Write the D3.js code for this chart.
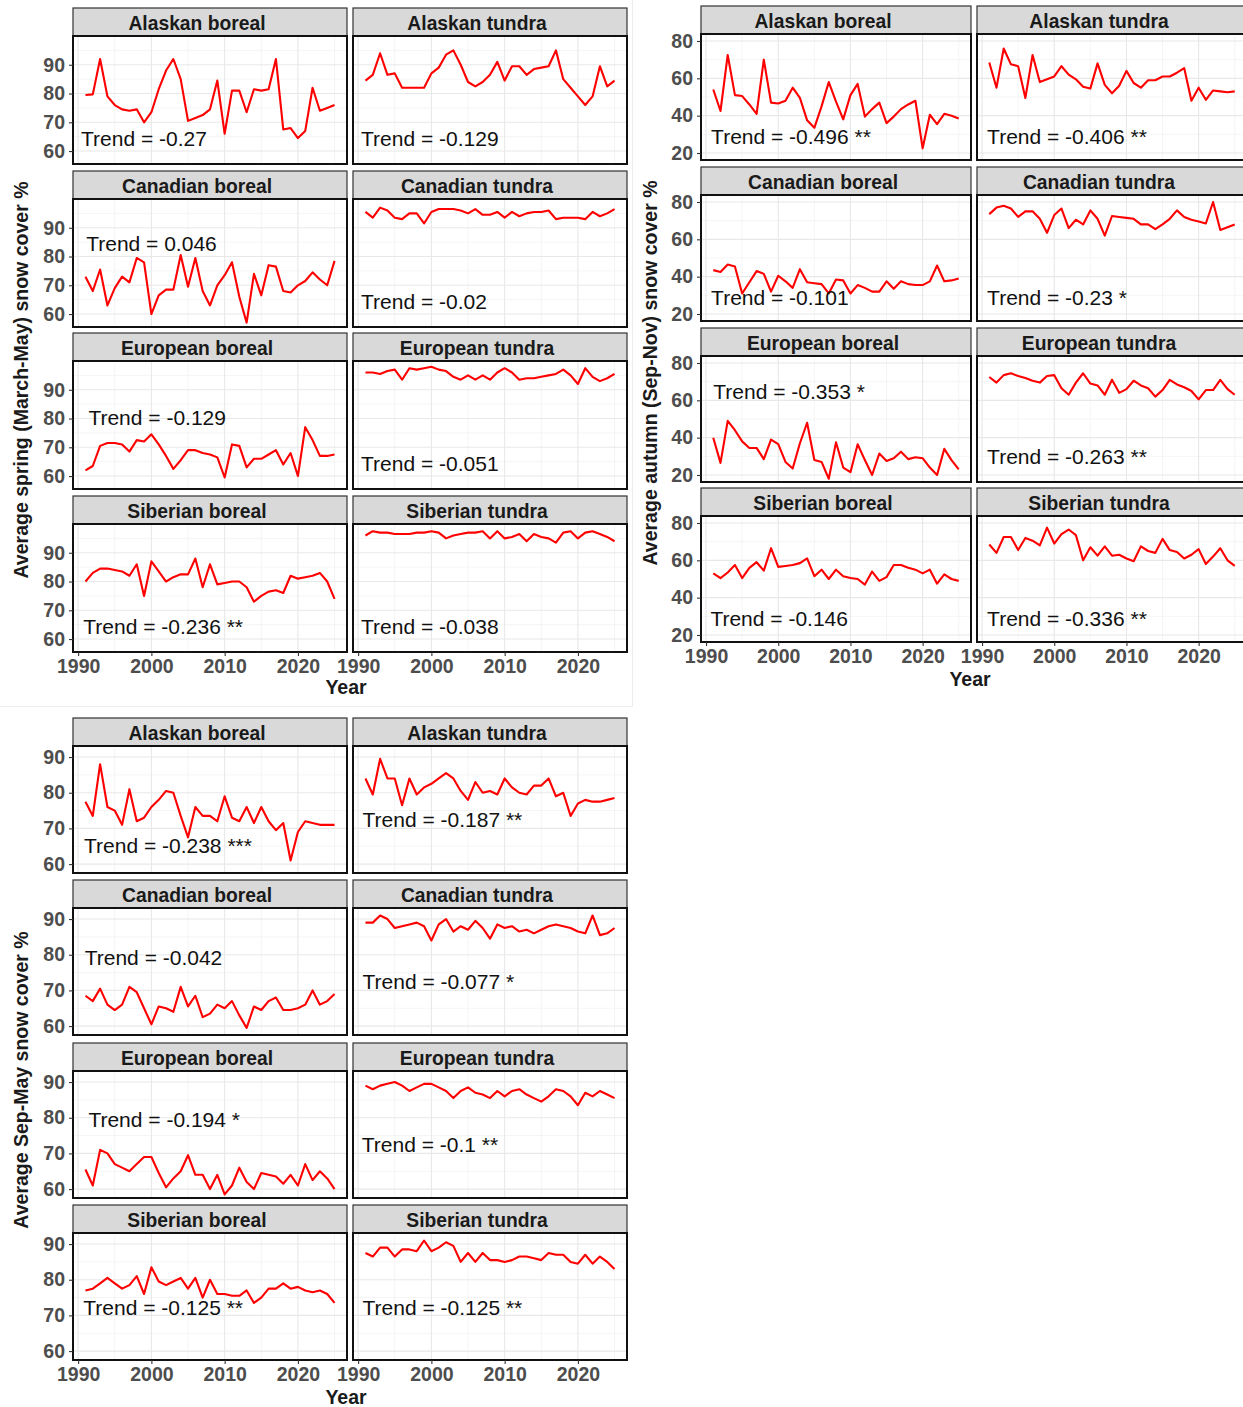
<!DOCTYPE html>
<html>
<head>
<meta charset="utf-8">
<script src="https://cdn.jsdelivr.net/npm/d3@7"></script>
<style>
  body { margin: 0; background: #fff; }
  svg { display: block; }
  text { font-family: "Liberation Sans", Arial, Helvetica, sans-serif; }
</style>
</head>
<body>
<svg id="chart" width="1243" height="1407"></svg>
<script>
// ---- shared categories and ticks ----
const years = [1991,1992,1993,1994,1995,1996,1997,1998,1999,2000,2001,2002,2003,2004,2005,
               2006,2007,2008,2009,2010,2011,2012,2013,2014,2015,2016,2017,2018,2019,2020,
               2021,2022,2023,2024,2025];
const regions = ["Alaskan boreal", "Alaskan tundra", "Canadian boreal", "Canadian tundra",
                 "European boreal", "European tundra", "Siberian boreal", "Siberian tundra"];
const xTicks = [1990, 2000, 2010, 2020];
const yTicksSpring = [60, 70, 80, 90];
const yTicksAutumn = [20, 40, 60, 80];
const yTicksSepMay = [60, 70, 80, 90];

// ---- spring (March-May) snow cover % ----
const springAlaskanBoreal = [79.5,79.7,92,79,76,74.5,74,74.5,70,73.5,81.5,88,92,85,70.5,71.5,72.5,74.5,84.5,66,81,81,73.5,81.5,81,81.5,92,67.5,68,64.5,67,82,74,75,76];
const springAlaskanTundra = [84.5,86.5,94,86.5,87,82,82,82,82,87,89,93.5,95,90,84,82.5,84,86.5,91,84.5,89.5,89.5,86.5,88.5,89,89.5,95,85,82,79,76,79,89.5,82.5,84.5];
const springCanadianBoreal = [73,68,75.5,63,69,73,71,79.5,78,60,66.5,68.5,68.5,80.5,69.5,79.5,68,63,70,73.5,78,66,57,74,66.5,77,76.5,68,67.5,70,71.5,74.5,72,70,78.5];
const springCanadianTundra = [95.5,93.5,97,96,93.5,93,95,95,91.5,95.5,96.5,96.5,96.5,96,95,96.5,94.5,94.5,95.5,93.5,95.5,94,95,95.5,95.5,96,93,93.5,93.5,93.5,93,95.5,94,95,96.5];
const springEuropeanBoreal = [62,63.5,70.5,71.5,71.5,71,68.5,72.5,72,74.5,71,67,62.5,65.5,69,69,68,67.5,66.5,59.5,71,70.5,63,66,66,67.5,69,64,68,60,77,72.5,67,67,67.5];
const springEuropeanTundra = [96,96,95.5,96.5,97,93.5,97.5,97,97.5,98,97,96.5,94.5,93.5,95,93.5,95,93.5,96,97.5,96,93.5,94,94,94.5,95,95.5,97,95,92,97.5,94.5,93,94,95.5];
const springSiberianBoreal = [80,83,84.5,84.5,84,83.5,82,86,75,87,83.5,80,81.5,82.5,82.5,88,78,86,79,79.5,80,80,78,73,75,76.5,77,76,82,81,81.5,82,83,80,74];
const springSiberianTundra = [96,97.5,97,97,96.5,96.5,96.5,97,97,97.5,97,95,96,96.5,97,97,97.5,95,97.5,95,95.5,96.5,94,96.5,95.5,95,93.5,97,97.5,95,97,97.5,96.5,95.5,94];
const springTrend = [-0.27, -0.129, 0.046, -0.02, -0.129, -0.051, -0.236, -0.038];
const springSig = ["", "", "", "", "", "", "**", ""];
const springLabelYear = [1990.4, 1990.4, 1991.1, 1990.4, 1991.4, 1990.4, 1990.7, 1990.4];
const springLabelValue = [64.2, 64.2, 84.7, 64.2, 80.5, 64.2, 64.5, 64.5];

// ---- autumn (Sep-Nov) snow cover % ----
const autumnAlaskanBoreal = [54,42.5,72.5,51,50.5,46,41,70,47,46.5,48,55,49.5,37.5,33.5,45,58,47.5,38,51,57,39.5,43.5,47,36,39.5,43.5,46,48,22.5,40.5,35.5,41,40,38.5];
const autumnAlaskanTundra = [68.5,55,76,67.5,66.5,49.5,72.5,58,59.5,61,66.5,62,59.5,55.5,54.5,68,56.5,52,56,64,57.5,55,59,59,61,61,63,65.5,48,55,48.5,53.5,53,52.5,53];
const autumnCanadianBoreal = [43.5,42.5,46.5,45.5,31,37,43,41.5,32,40.5,37.5,34,44,37,36.5,36,31,38.5,38,31,35.5,34,32,32,37.5,33.5,37.5,36,35.5,35.5,37.5,46,37.5,38,39];
const autumnCanadianTundra = [73.5,77,78,76.5,72,75,75,71,63.5,73,76.5,66,70.5,68,75.5,71,62,72.5,72,71.5,71,68,68,65.5,68,71,75.5,72,70.5,69.5,68.5,80,65,66.5,68];
const autumnEuropeanBoreal = [40,26.5,49,44,38,34.5,34.5,28.5,39,36.5,27,23.5,37,48,28,27,18,37.5,24,21.5,36.5,28,20,31.5,27.5,29,32.5,28.5,29.5,29,24,20,34,28,23];
const autumnEuropeanTundra = [72.5,69.5,73.5,74.5,73,72,70.5,69.5,73,73.5,66.5,63,69.5,74.5,69,68,63,71,64,66,70.5,68,66.5,62,65.5,71,68.5,67,65,60.5,65.5,65.5,71,66,63];
const autumnSiberianBoreal = [53,50.5,53.5,57.5,50.5,56,59,54.5,66.5,56.5,57,57.5,58.5,61,51.5,55,50,55,51.5,50.5,50,47,54,49,51,57.5,57.5,56,55,53,55,47.5,52.5,50,49];
const autumnSiberianTundra = [68.5,64,72.5,72.5,65.5,72,70.5,68,77.5,69,74,76.5,73.5,60,67,62.5,67.5,62.5,63,61,59.5,67.5,65,64,71.5,65.5,64.5,61,63,66,58,62,66.5,60,57];
const autumnTrend = [-0.496, -0.406, -0.101, -0.23, -0.353, -0.263, -0.146, -0.336];
const autumnSig = ["**", "**", "", "*", "*", "**", "", "**"];
const autumnLabelYear = [1990.7, 1990.7, 1990.7, 1990.7, 1991.0, 1990.7, 1990.6, 1990.7];
const autumnLabelValue = [29.1, 29.1, 29.1, 29.1, 65, 29.7, 29.1, 29.1];

// ---- Sep-May snow cover % ----
const sepMayAlaskanBoreal = [77.5,73.5,88,76,75,71,81,72,73,76,78,80.5,80,73.5,67.5,76,73.5,73.5,72,79,73,72,76,71.5,76,72,69.5,71.5,61,69,72,71.5,71,71,71];
const sepMayAlaskanTundra = [84,79.5,89.5,84,84,76.5,84,79.5,81.5,82.5,84,85.5,84,80.5,78,83,80,80.5,79.5,84,81.5,80,79.5,82,82,84,79,80,73.5,77,78,77.5,77.5,78,78.5];
const sepMayCanadianBoreal = [68.5,67,70.5,66,64.5,66,71,69.5,65,60.5,65.5,65,64,71,65.5,68.5,62.5,63.5,66,65,67,63,59.5,65.5,64.5,67,68,64.5,64.5,65,66,70,66,67,69];
const sepMayCanadianTundra = [89,89,91,90,87.5,88,88.5,89,88,84,88.5,90,86.5,88,87,89.5,87.5,84.5,88.5,87.5,88,86.5,87,86,87,88,88.5,88,87.5,86.5,86,91,85.5,86,87.5];
const sepMayEuropeanBoreal = [65.5,61,71,70,67,66,65,67,69,69,64.5,60.5,63,65,69.5,64,64,60,64,58.5,61,66,62,60,64.5,64,63.5,61.5,64,61,67,62.5,65,63,60];
const sepMayEuropeanTundra = [89,88,89,89.5,90,89,87.5,88.5,89.5,89.5,88.5,87.5,85.5,87.5,88.5,87,86.5,85.5,87.5,86,87.5,88,86.5,85.5,84.5,86,88,87.5,86,83.5,87,86,87.5,86.5,85.5];
const sepMaySiberianBoreal = [77,77.5,79,80.5,79,77.5,78.5,81,76,83.5,79.5,78.5,79.5,80.5,77.5,80.5,75,80,76,76,75.5,75.5,77,73.5,75,77.5,77.5,79,77.5,78,77,76.5,77,76,73.5];
const sepMaySiberianTundra = [87.5,86.5,89,89,86.5,88.5,88.5,88,91,88,89,90.5,89.5,85,87.5,85,87.5,85.5,85.5,85,85.5,86.5,86.5,86,85.5,87.5,87,87,85,84.5,87,84.5,86.5,85,83];
const sepMayTrend = [-0.238, -0.187, -0.042, -0.077, -0.194, -0.1, -0.125, -0.125];
const sepMaySig = ["***", "**", "", "*", "*", "**", "**", "**"];
const sepMayLabelYear = [1990.8, 1990.6, 1990.9, 1990.6, 1991.4, 1990.5, 1990.7, 1990.6];
const sepMayLabelValue = [65.1, 72.4, 79.1, 72.4, 79.6, 72.6, 72.1, 72.1];

// ---- layout of the three faceted figures ----
const xDomain = [1989.3, 2026.7];

const figures = [
  {
    series: [springAlaskanBoreal, springAlaskanTundra, springCanadianBoreal, springCanadianTundra,
             springEuropeanBoreal, springEuropeanTundra, springSiberianBoreal, springSiberianTundra],
    trend: springTrend, sig: springSig, labelYear: springLabelYear, labelValue: springLabelValue,
    yTicks: yTicksSpring, yDomain: [55.5, 100],
    cols: [73, 353], w: 274, rows: [8, 171, 333, 496], sh: 28, ph: 128,
    yTitle: "Average spring (March-May) snow cover %", yTitlePos: [21, 380],
    xTitlePos: [346, 687]
  },
  {
    series: [autumnAlaskanBoreal, autumnAlaskanTundra, autumnCanadianBoreal, autumnCanadianTundra,
             autumnEuropeanBoreal, autumnEuropeanTundra, autumnSiberianBoreal, autumnSiberianTundra],
    trend: autumnTrend, sig: autumnSig, labelYear: autumnLabelYear, labelValue: autumnLabelValue,
    yTicks: yTicksAutumn, yDomain: [16.25, 83.75],
    cols: [701, 977], w: 270, rows: [6, 167, 328, 488], sh: 28, ph: 126,
    yTitle: "Average autumn (Sep-Nov) snow cover %", yTitlePos: [650, 373],
    xTitlePos: [970, 679]
  },
  {
    series: [sepMayAlaskanBoreal, sepMayAlaskanTundra, sepMayCanadianBoreal, sepMayCanadianTundra,
             sepMayEuropeanBoreal, sepMayEuropeanTundra, sepMaySiberianBoreal, sepMaySiberianTundra],
    trend: sepMayTrend, sig: sepMaySig, labelYear: sepMayLabelYear, labelValue: sepMayLabelValue,
    yTicks: yTicksSepMay, yDomain: [57.5, 93.1],
    cols: [73, 353], w: 274, rows: [718, 880, 1043, 1205], sh: 28, ph: 127,
    yTitle: "Average Sep-May snow cover %", yTitlePos: [21, 1080],
    xTitlePos: [346, 1397]
  }
];

const svg = d3.select("#chart");

// faint seams between the separately exported figures
svg.append("line").attr("x1", 632.5).attr("x2", 632.5).attr("y1", 0).attr("y2", 706)
   .attr("stroke", "#ececec").attr("stroke-width", 1);
svg.append("line").attr("x1", 0).attr("x2", 632.5).attr("y1", 706.5).attr("y2", 706.5)
   .attr("stroke", "#ececec").attr("stroke-width", 1);

// minor breaks halfway between the major ones, as ggplot places them
function minorBetween(ticks) {
  const step = ticks[1] - ticks[0];
  const out = [ticks[0] - step / 2];
  ticks.forEach(t => out.push(t + step / 2));
  return out;
}

figures.forEach((fig, fi) => {
  const x = d3.scaleLinear().domain(xDomain).range([0, fig.w]);
  const y = d3.scaleLinear().domain(fig.yDomain).range([fig.ph, 0]);
  const xMinor = minorBetween(xTicks).filter(v => v > xDomain[0] && v < xDomain[1]);
  const yMinor = minorBetween(fig.yTicks).filter(v => v > fig.yDomain[0] && v < fig.yDomain[1]);
  const line = d3.line().x((d, i) => x(years[i])).y(d => y(d)).curve(d3.curveLinear);

  regions.forEach((name, i) => {
    const col = i % 2, row = Math.floor(i / 2);
    const left = fig.cols[col], top = fig.rows[row];

    // strip (title sits a little left of the strip centre)
    const strip = svg.append("g").attr("transform", `translate(${left},${top})`);
    strip.append("rect").attr("width", fig.w).attr("height", fig.sh)
      .attr("fill", "#d9d9d9").attr("stroke", "#333").attr("stroke-width", 1.2);
    strip.append("text").attr("x", fig.w / 2 - 13).attr("y", fig.sh / 2 + 1)
      .attr("text-anchor", "middle").attr("dominant-baseline", "central")
      .attr("font-size", 19.3).attr("font-weight", "bold").attr("fill", "#1a1a1a")
      .text(name);

    // panel
    const p = svg.append("g").attr("transform", `translate(${left},${top + fig.sh})`);
    const clipId = `clip-${fi}-${i}`;
    p.append("clipPath").attr("id", clipId).append("rect")
      .attr("width", fig.w).attr("height", fig.ph);
    p.append("rect").attr("width", fig.w).attr("height", fig.ph).attr("fill", "#fff");

    const grid = p.append("g");
    grid.selectAll("line.xmin").data(xMinor).join("line")
      .attr("x1", d => x(d)).attr("x2", d => x(d)).attr("y1", 0).attr("y2", fig.ph)
      .attr("stroke", "#f3f3f3").attr("stroke-width", 0.8);
    grid.selectAll("line.ymin").data(yMinor).join("line")
      .attr("x1", 0).attr("x2", fig.w).attr("y1", d => y(d)).attr("y2", d => y(d))
      .attr("stroke", "#f3f3f3").attr("stroke-width", 0.8);
    grid.selectAll("line.xmaj").data(xTicks).join("line")
      .attr("x1", d => x(d)).attr("x2", d => x(d)).attr("y1", 0).attr("y2", fig.ph)
      .attr("stroke", "#e8e8e8").attr("stroke-width", 1.1);
    grid.selectAll("line.ymaj").data(fig.yTicks).join("line")
      .attr("x1", 0).attr("x2", fig.w).attr("y1", d => y(d)).attr("y2", d => y(d))
      .attr("stroke", "#e8e8e8").attr("stroke-width", 1.1);

    p.append("path").datum(fig.series[i])
      .attr("clip-path", `url(#${clipId})`)
      .attr("d", line).attr("fill", "none")
      .attr("stroke", "#ff0000").attr("stroke-width", 2.1)
      .attr("stroke-linejoin", "round");

    const label = `Trend = ${fig.trend[i]}` + (fig.sig[i] ? ` ${fig.sig[i]}` : "");
    p.append("text").attr("x", x(fig.labelYear[i])).attr("y", y(fig.labelValue[i]))
      .attr("dominant-baseline", "central")
      .attr("font-size", 21).attr("fill", "#111").text(label);

    p.append("rect").attr("width", fig.w).attr("height", fig.ph)
      .attr("fill", "none").attr("stroke", "#111").attr("stroke-width", 2);

    // y axis on the left column
    if (col === 0) {
      const ya = p.append("g").call(d3.axisLeft(y).tickValues(fig.yTicks).tickSize(4).tickPadding(4));
      ya.select(".domain").remove();
      ya.selectAll(".tick line").attr("stroke", "#333").attr("stroke-width", 1.1);
      ya.selectAll(".tick text").attr("font-size", 19.5).attr("font-weight", "bold")
        .attr("fill", "#4d4d4d").attr("font-family", "'Liberation Sans', Arial, sans-serif");
    }
    // x axis under the bottom row
    if (row === 3) {
      const xa = p.append("g").attr("transform", `translate(0,${fig.ph})`)
        .call(d3.axisBottom(x).tickValues(xTicks).tickFormat(d3.format("d")).tickSize(4).tickPadding(3));
      xa.select(".domain").remove();
      xa.selectAll(".tick line").attr("stroke", "#333").attr("stroke-width", 1.1);
      xa.selectAll(".tick text").attr("font-size", 19.5).attr("font-weight", "bold")
        .attr("fill", "#4d4d4d").attr("font-family", "'Liberation Sans', Arial, sans-serif");
    }
  });

  svg.append("text")
    .attr("transform", `translate(${fig.yTitlePos[0]},${fig.yTitlePos[1]}) rotate(-90)`)
    .attr("text-anchor", "middle").attr("dominant-baseline", "central")
    .attr("font-size", 19.5).attr("font-weight", "bold").attr("fill", "#1a1a1a")
    .text(fig.yTitle);
  svg.append("text").attr("x", fig.xTitlePos[0]).attr("y", fig.xTitlePos[1])
    .attr("text-anchor", "middle").attr("dominant-baseline", "central")
    .attr("font-size", 19.5).attr("font-weight", "bold").attr("fill", "#1a1a1a")
    .text("Year");
});
</script>
</body>
</html>
